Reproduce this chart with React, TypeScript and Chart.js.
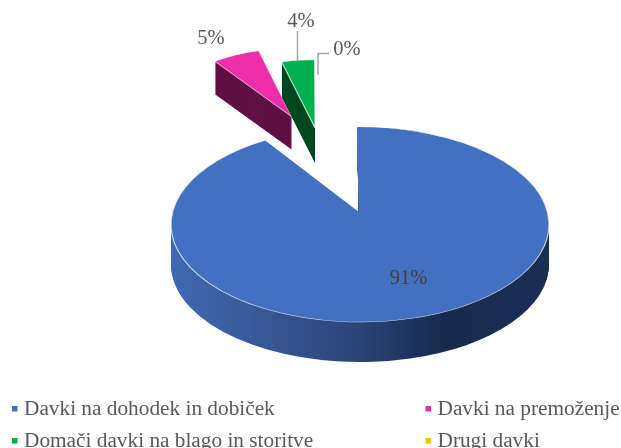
import React, { useEffect, useRef } from "react";
import { Chart, registerables } from "chart.js";

Chart.register(...registerables);

const categories = [
  "Davki na dohodek in dobiček",
  "Davki na premoženje",
  "Domači davki na blago in storitve",
  "Drugi davki",
];
const shares = [91, 5, 4, 0];
const percentLabels = ["91%", "5%", "4%", "0%"];
const topColors = ["#4371C1", "#EE2DAB", "#00B050", "#FFC000"];
const wallColors = ["#2A4477", "#5E1045", "#00471F", "#7F6000"];

// 3D look: view squash, extrusion and how each slice is pulled out (fractions of the pie radius)
const SQUASH = 0.516;
const explodeX = [0, -0.36, -0.238, 0];
const explodeY = [0, -1.104, -0.99, 0];
const radiusRatio = [1, 0.7, 0.7, 1];
const sliceDepth = [40, 33, 35, 0];
// perspective widens or turns the projected slice edges a little (degrees)
const startTilt = [0, -2.5, 0.5, 0];
const endTilt = [3, 0.6, 0.5, 0];

const FONT = '"Liberation Serif", "Times New Roman", serif';

const labelPos = [
  [408.5, 279],
  [211, 39],
  [301, 22],
  [347, 50],
];
const leaderLines = [
  [[297.5, 31], [297.5, 61]],
  [[318, 75], [318, 53.5], [329, 53.5]],
];
const legendPos = [
  [12, 415],
  [425.5, 415],
  [12, 447],
  [425.5, 447],
];

const pie3d = {
  id: "pie3d",
  beforeDatasetsDraw(chart: any) {
    const { ctx } = chart;
    const arcs = chart.getDatasetMeta(0).data;
    const cx = arcs[0].x;
    const cy = arcs[0].y;
    const R = arcs[0].outerRadius;
    const rad = Math.PI / 180;

    const drawArc = (
      arc: any, shiftY: number, fill: any, border: boolean,
      dx: number, dy: number, ratio: number, tiltA: number, tiltB: number,
    ) => {
      const saved = {
        x: arc.x, y: arc.y, outerRadius: arc.outerRadius,
        startAngle: arc.startAngle, endAngle: arc.endAngle, circumference: arc.circumference, options: arc.options,
      };
      arc.x = cx + dx * R;
      arc.y = cy + dy * R;
      arc.outerRadius = R * ratio;
      arc.startAngle += tiltA * rad;
      arc.endAngle += tiltB * rad;
      arc.options = {
        ...saved.options,
        backgroundColor: fill,
        borderColor: "rgba(255,255,255,0.75)",
        borderWidth: border ? 1.2 : 0,
        offset: 0,
      };
      ctx.save();
      ctx.translate(cx, cy + shiftY);
      ctx.scale(1, SQUASH);
      ctx.translate(-cx, -cy);
      arc.draw(ctx);
      ctx.restore();
      Object.assign(arc, saved);
    };

    const wallGradient = ctx.createLinearGradient(cx - R, 0, cx + R, 0);
    wallGradient.addColorStop(0, "#3F69B2");
    wallGradient.addColorStop(0.18, "#3A5C9E");
    wallGradient.addColorStop(0.5, "#2A4477");
    wallGradient.addColorStop(0.72, "#172A4E");
    wallGradient.addColorStop(1, "#1B2F55");

    arcs.forEach((arc: any, i: number) => {
      if (!shares[i]) return;
      const wall = i === 0 ? wallGradient : wallColors[i];
      for (let d = sliceDepth[i]; d > 0; d -= 1) {
        drawArc(arc, d, wall, false, explodeX[i], explodeY[i], radiusRatio[i], startTilt[i], endTilt[i]);
      }
      drawArc(arc, 0, topColors[i], true, explodeX[i], explodeY[i], radiusRatio[i], startTilt[i], endTilt[i]);
      if (i === 0) {
        // perspective moves the visible apex of the large slice up from the ellipse centre
        drawArc(arc, 0, topColors[i], false, -0.006, -0.128, 0.87, 0, -0.9);
      }
    });
    return false;
  },
  afterDraw(chart: any) {
    const { ctx } = chart;
    ctx.save();
    ctx.strokeStyle = "#A6A6A6";
    ctx.lineWidth = 1.5;
    leaderLines.forEach((line) => {
      ctx.beginPath();
      line.forEach(([x, y], k) => (k ? ctx.lineTo(x, y) : ctx.moveTo(x, y)));
      ctx.stroke();
    });
    ctx.textAlign = "center";
    ctx.textBaseline = "middle";
    ctx.font = `20.5px ${FONT}`;
    percentLabels.forEach((t, i) => {
      ctx.fillStyle = i === 0 ? "#404040" : "#595959";
      ctx.fillText(t, labelPos[i][0], labelPos[i][1]);
    });
    ctx.font = `21.3px ${FONT}`;
    ctx.textAlign = "left";
    ctx.textBaseline = "alphabetic";
    categories.forEach((t, i) => {
      const [x, y] = legendPos[i];
      ctx.fillStyle = topColors[i];
      ctx.fillRect(x, y - 9, 5.5, 5.5);
      ctx.fillStyle = "#595959";
      ctx.fillText(t, x + 12, y);
    });
    ctx.restore();
  },
};

export default function App() {
  const ref = useRef<HTMLCanvasElement>(null);
  useEffect(() => {
    const chart = new Chart(ref.current as HTMLCanvasElement, {
      type: "pie",
      data: {
        labels: categories,
        datasets: [{ data: shares, backgroundColor: topColors, borderWidth: 0 }],
      },
      options: {
        responsive: false,
        animation: false,
        rotation: -0.7,
        layout: { padding: { left: 171, right: 72, top: 35.5, bottom: 34.5 } },
        plugins: { legend: { display: false }, tooltip: { enabled: false } },
      },
      plugins: [pie3d],
    } as any);
    return () => chart.destroy();
  }, []);
  return (
    <div style={{ position: "fixed", left: 0, top: 0, width: 621, height: 448, background: "#fff" }}>
      <canvas ref={ref} width={621} height={448} style={{ display: "block" }} />
    </div>
  );
}
